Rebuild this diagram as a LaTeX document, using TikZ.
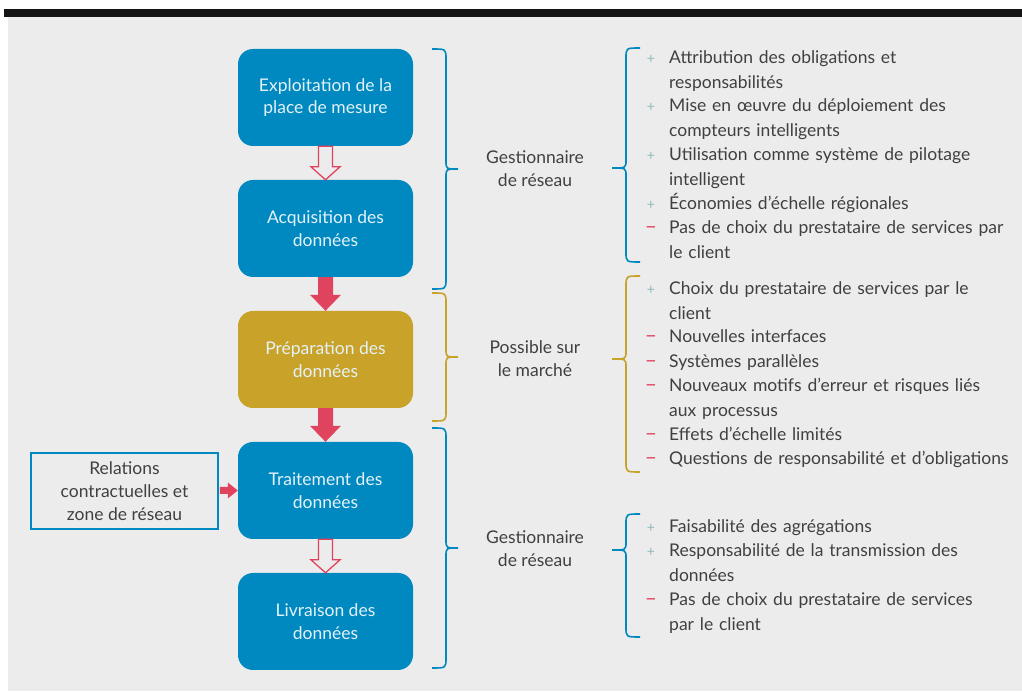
\documentclass[tikz,border=0pt]{standalone}
\usepackage{fontspec}
\setmainfont{Lato}
\usetikzlibrary{calc}
\definecolor{bg}{HTML}{ECECEC}
\definecolor{boxblue}{HTML}{0089C0}
\definecolor{gold}{HTML}{C9A22A}
\definecolor{arrred}{HTML}{E0435E}
\definecolor{txt}{HTML}{404040}
\definecolor{plusc}{HTML}{8DB8B8}
\definecolor{boxtxt}{HTML}{E4F2F9}
\tikzset{
  stepbox/.style={fill=boxblue, rounded corners=15pt, minimum width=175pt, minimum height=97pt, inner sep=0pt, text=boxtxt, align=center, font=\fontsize{17.5}{22.5}\selectfont},
  goldbox/.style={stepbox, fill=gold},
  relbox/.style={draw=boxblue, line width=1.6pt, fill=bg, minimum width=187pt, minimum height=76pt, inner sep=0pt, text=txt, align=center, font=\fontsize{17.5}{23}\selectfont},
  midlabel/.style={text=txt, align=center, inner sep=0pt, font=\fontsize{17.5}{23}\selectfont},
  item/.style={text=txt, anchor=base west, inner sep=0pt, yshift=-1pt, text width=360pt, align=left, font=\fontsize{17.5}{24.4}\selectfont},
  plusmark/.style={text=plusc, anchor=base, inner sep=0pt, yshift=-1pt, font=\fontsize{14}{16}\selectfont},
  minusmark/.style={text=arrred, anchor=base, inner sep=0pt, yshift=-1pt, font=\fontsize{21}{22}\selectfont},
  hollowarr/.style={fill=bg, draw=arrred, line width=1.3pt, line join=miter},
  solidarr/.style={fill=arrred},
  bluebrace/.style={draw=boxblue, line width=1.6pt},
  goldbrace/.style={draw=gold, line width=1.6pt},
}
\newcommand\bracepath[6]{(#1,#4) .. controls (#2,#4) .. (#2,#4-10) -- (#2,#5+8) .. controls (#2,#5) .. (#3,#5) .. controls (#2,#5) .. (#2,#5-8) -- (#2,#6+10) .. controls (#2,#6) .. (#1,#6)}
\begin{document}
\begin{tikzpicture}[x=1pt,y=1pt]
\useasboundingbox (0,0) rectangle (1022,693);
\fill[white] (0,0) rectangle (1022,693);
\fill[bg] (8,2) rectangle (1022,676);
\fill[black!92] (4,676) rectangle (1022,684);

% process boxes
\node[stepbox] (b1) at (325.5,595.5) {Exploitation de la\\place de mesure};
\node[stepbox] (b2) at (325.5,464.5) {Acquisition des\\données};
\node[goldbox] (b3) at (325.5,333.5) {Préparation des\\données};
\node[stepbox] (b4) at (325.5,202.5) {Traitement des\\données};
\node[stepbox] (b5) at (325.5,71.5) {Livraison des\\données};
\node[relbox] (rel) at (124.5,202) {Relations\\contractuelles et\\zone de réseau};

% arrows
\path[hollowarr] let \p1=(b1.south), \p2=(b2.north) in
  (\x1-7pt,\y1) -- (\x1-7pt,\y2+13pt) -- (\x1-14.5pt,\y2+13pt) -- (\x2,\y2) -- (\x1+14.5pt,\y2+13pt) -- (\x1+7pt,\y2+13pt) -- (\x1+7pt,\y1) -- cycle;
\path[solidarr] let \p1=(b2.south), \p2=(b3.north) in
  (\x1-7.5pt,\y1) -- (\x1-7.5pt,\y2+16pt) -- (\x1-15.5pt,\y2+16pt) -- (\x2,\y2) -- (\x1+15.5pt,\y2+16pt) -- (\x1+7.5pt,\y2+16pt) -- (\x1+7.5pt,\y1) -- cycle;
\path[solidarr] let \p1=(b3.south), \p2=(b4.north) in
  (\x1-7.5pt,\y1) -- (\x1-7.5pt,\y2+16pt) -- (\x1-15.5pt,\y2+16pt) -- (\x2,\y2) -- (\x1+15.5pt,\y2+16pt) -- (\x1+7.5pt,\y2+16pt) -- (\x1+7.5pt,\y1) -- cycle;
\path[hollowarr] let \p1=(b4.south), \p2=(b5.north) in
  (\x1-7pt,\y1) -- (\x1-7pt,\y2+13pt) -- (\x1-14.5pt,\y2+13pt) -- (\x2,\y2) -- (\x1+14.5pt,\y2+13pt) -- (\x1+7pt,\y2+13pt) -- (\x1+7pt,\y1) -- cycle;
\path[solidarr] let \p1=(rel.east), \p2=(b4.west) in
  (\x1+1pt,\y2+3.5pt) -- (\x2-10pt,\y2+3.5pt) -- (\x2-10pt,\y2+8pt) -- (\x2,\y2) -- (\x2-10pt,\y2-8pt) -- (\x2-10pt,\y2-3.5pt) -- (\x1+1pt,\y2-3.5pt) -- cycle;

% middle braces
\draw[bluebrace] \bracepath{432}{446}{458}{644}{524}{404};
\draw[goldbrace] \bracepath{432}{446}{458}{400}{336}{272};
\draw[bluebrace] \bracepath{432}{446}{458}{265}{145}{25};

\node[midlabel] (g1) at (535,524) {Gestionnaire\\de réseau};
\node[midlabel] (g2) at (535,334) {Possible sur\\le marché};
\node[midlabel] (g3) at (535,144) {Gestionnaire\\de réseau};

% right braces
\draw[bluebrace] \bracepath{640}{626}{612}{645}{525}{431};
\draw[goldbrace] \bracepath{640}{626}{612}{417}{334}{221};
\draw[bluebrace] \bracepath{640}{626}{612}{179}{143}{56};

% group 1
\node[plusmark] (m11) at (651,630) {+};
\node[item] (t11) at (669,630) {Attribution des obligations et\\responsabilités};
\node[plusmark] (m12) at (651,582) {+};
\node[item] (t12) at (669,582) {Mise en œuvre du déploiement des\\compteurs intelligents};
\node[plusmark] (m13) at (651,533) {+};
\node[item] (t13) at (669,533) {Utilisation comme système de pilotage\\intelligent};
\node[plusmark] (m14) at (651,484) {+};
\node[item] (t14) at (669,484) {Économies d’échelle régionales};
\node[minusmark] (m15) at (651,460) {–};
\node[item] (t15) at (669,460) {Pas de choix du prestataire de services par\\le client};

% group 2
\node[plusmark] (m21) at (651,399) {+};
\node[item] (t21) at (669,399) {Choix du prestataire de services par le\\client};
\node[minusmark] (m22) at (651,351) {–};
\node[item] (t22) at (669,351) {Nouvelles interfaces};
\node[minusmark] (m23) at (651,326) {–};
\node[item] (t23) at (669,326) {Systèmes parallèles};
\node[minusmark] (m24) at (651,302) {–};
\node[item] (t24) at (669,302) {Nouveaux motifs d’erreur et risques liés\\aux processus};
\node[minusmark] (m25) at (651,253) {–};
\node[item] (t25) at (669,253) {Effets d’échelle limités};
\node[minusmark] (m26) at (651,229) {–};
\node[item] (t26) at (669,229) {Questions de responsabilité et d’obligations};

% group 3
\node[plusmark] (m31) at (651,161) {+};
\node[item] (t31) at (669,161) {Faisabilité des agrégations};
\node[plusmark] (m32) at (651,137) {+};
\node[item] (t32) at (669,137) {Responsabilité de la transmission des\\données};
\node[minusmark] (m33) at (651,88) {–};
\node[item] (t33) at (669,88) {Pas de choix du prestataire de services\\par le client};
\end{tikzpicture}
\end{document}
